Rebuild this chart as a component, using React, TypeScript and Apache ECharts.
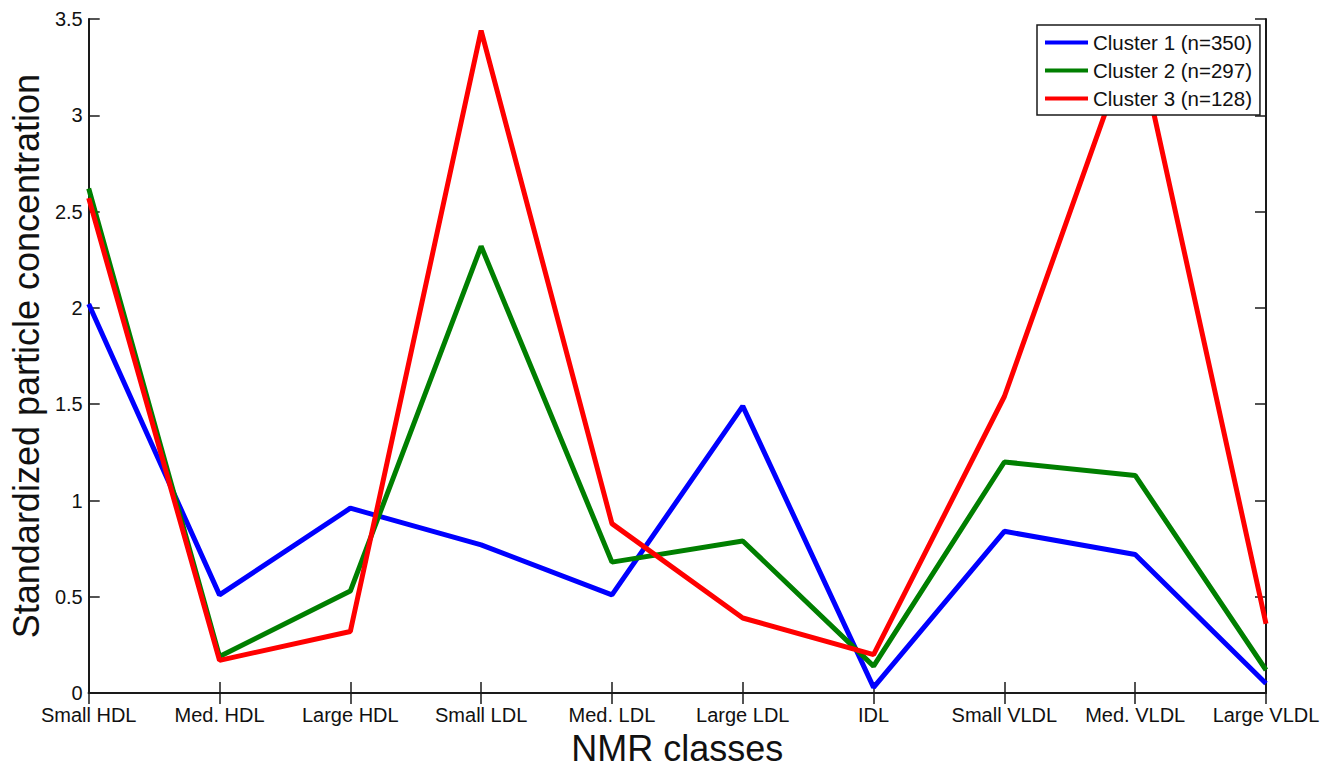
import React, { useEffect, useRef } from "react";
import * as echarts from "echarts";

const categories = [
  "Small HDL",
  "Med. HDL",
  "Large HDL",
  "Small LDL",
  "Med. LDL",
  "Large LDL",
  "IDL",
  "Small VLDL",
  "Med. VLDL",
  "Large VLDL",
];

const cluster1 = [2.02, 0.51, 0.96, 0.77, 0.51, 1.49, 0.03, 0.84, 0.72, 0.05];
const cluster2 = [2.62, 0.19, 0.53, 2.32, 0.68, 0.79, 0.14, 1.2, 1.13, 0.12];
const cluster3 = [2.57, 0.17, 0.32, 3.44, 0.88, 0.39, 0.2, 1.54, 3.45, 0.36];

const seriesNames = ["Cluster 1 (n=350)", "Cluster 2 (n=297)", "Cluster 3 (n=128)"];
const seriesColors = ["#0000ff", "#007f00", "#ff0000"];

const FONT = "'Liberation Sans', Arial, Helvetica, sans-serif";

export default function App() {
  const ref = useRef<HTMLDivElement>(null);

  useEffect(() => {
    if (!ref.current) return;
    const chart = echarts.init(ref.current, null, { renderer: "svg" });
    const axisLine = { show: true, lineStyle: { color: "#1a1a1a", width: 2 } };
    const tick = { show: true, inside: true, length: 11, lineStyle: { color: "#1a1a1a", width: 1.5 } };
    const data = [cluster1, cluster2, cluster3];
    chart.setOption({
      animation: false,
      textStyle: { fontFamily: FONT },
      grid: { left: 86, right: 67, top: 19, bottom: 63, containLabel: false },
      legend: {
        orient: "vertical",
        left: 1037,
        top: 25,
        padding: [7, 8, 6, 8],
        itemGap: 7,
        itemWidth: 43,
        itemHeight: 4,
        itemStyle: { borderWidth: 0 },
        backgroundColor: "#ffffff",
        borderColor: "#1a1a1a",
        borderWidth: 1.5,
        borderRadius: 0,
        icon: "rect",
        textStyle: { fontSize: 20.5, color: "#111", fontFamily: FONT, lineHeight: 20 },
        data: seriesNames,
      },
      xAxis: [
        {
          type: "category",
          data: categories,
          boundaryGap: false,
          position: "bottom",
          axisLine,
          axisTick: { ...tick, alignWithLabel: true },
          axisLabel: { color: "#111", fontSize: 20, lineHeight: 20, margin: 12, interval: 0, fontFamily: FONT },
          splitLine: { show: false },
          name: "NMR classes",
          nameLocation: "middle",
          nameGap: 31,
          nameTextStyle: { fontSize: 36, color: "#111", fontFamily: FONT },
        },
        {
          type: "category",
          data: categories,
          boundaryGap: false,
          position: "top",
          axisLine,
          axisTick: tick,
          axisLabel: { show: false },
          splitLine: { show: false },
        },
      ],
      yAxis: [
        {
          type: "value",
          min: 0,
          max: 3.5,
          interval: 0.5,
          position: "left",
          axisLine,
          axisTick: tick,
          axisLabel: { color: "#111", fontSize: 20, lineHeight: 14, margin: 6, fontFamily: FONT },
          splitLine: { show: false },
          name: "Standardized particle concentration",
          nameLocation: "middle",
          nameGap: 44,
          nameTextStyle: { fontSize: 36, color: "#111", fontFamily: FONT },
        },
        {
          type: "value",
          min: 0,
          max: 3.5,
          interval: 0.5,
          position: "right",
          axisLine,
          axisTick: tick,
          axisLabel: { show: false },
          splitLine: { show: false },
        },
      ],
      series: data.map((d, i) => ({
        name: seriesNames[i],
        type: "line",
        data: d,
        xAxisIndex: 0,
        yAxisIndex: 0,
        showSymbol: false,
        symbol: "none",
        lineStyle: { color: seriesColors[i], width: 5, join: "bevel" },
        itemStyle: { color: seriesColors[i] },
        emphasis: { disabled: true },
      })),
    });
    return () => chart.dispose();
  }, []);

  return (
    <div
      ref={ref}
      style={{ position: "absolute", left: 0, top: 0, width: 1333, height: 771, background: "#fff" }}
    />
  );
}
